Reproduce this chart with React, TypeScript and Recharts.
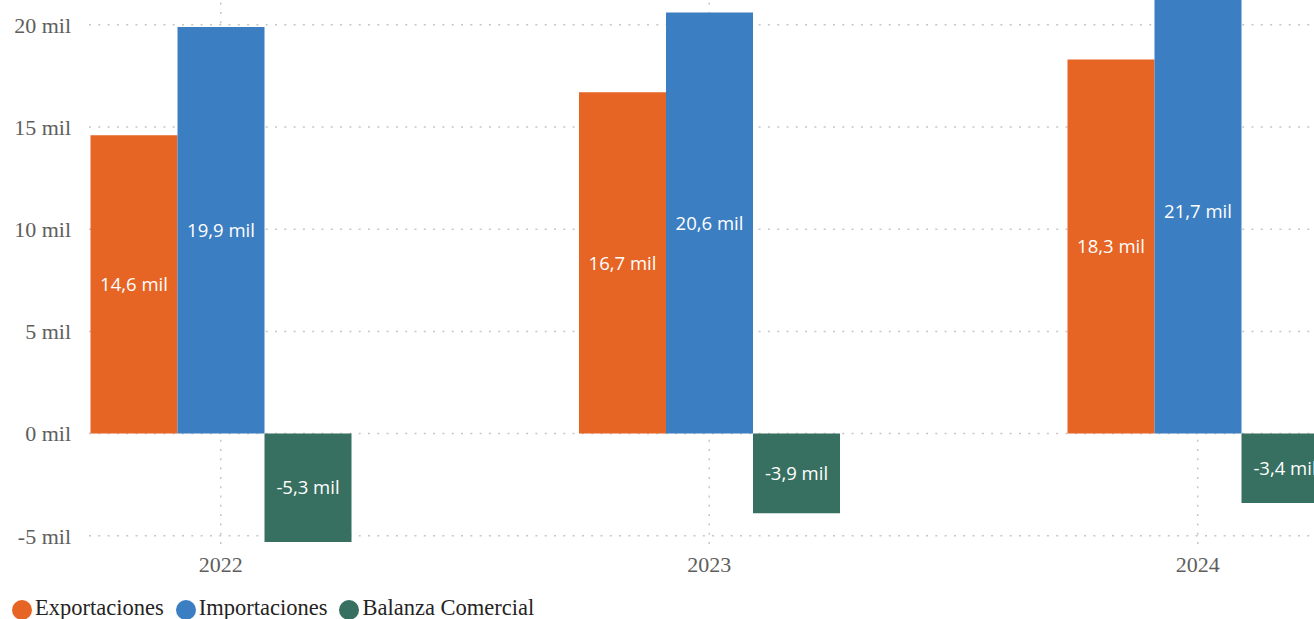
import React from 'react';
import { BarChart, Bar, XAxis, YAxis, CartesianGrid, Legend, LabelList } from 'recharts';

const years = ['2022', '2023', '2024'];
const exportaciones = [14.6, 16.7, 18.3];
const importaciones = [19.9, 20.6, 21.7];
const balanza = [-5.3, -3.9, -3.4];
const yTicks = [-5, 0, 5, 10, 15, 20];

const series = [
  { key: 'exportaciones', name: 'Exportaciones', color: '#E66424' },
  { key: 'importaciones', name: 'Importaciones', color: '#3B7EC2' },
  { key: 'balanza', name: 'Balanza Comercial', color: '#376F60' },
];

const data = years.map((y, i) => ({
  year: y,
  exportaciones: exportaciones[i],
  importaciones: importaciones[i],
  balanza: balanza[i],
}));

const fmtLabel = (v: any) => `${Number(v).toFixed(1).replace('.', ',')} mil`;
const fmtTick = (v: any) => `${v} mil`;

const serif = '"Liberation Serif", "Times New Roman", serif';
const sans = '"Open Sans", "Noto Sans", sans-serif';

const renderLegend = () => (
  <div
    style={{
      height: 36,
      boxSizing: 'border-box',
      paddingTop: 17,
      display: 'flex',
      alignItems: 'center',
      fontFamily: serif,
      fontSize: 22.5,
      color: '#252423',
      whiteSpace: 'nowrap',
    }}
  >
    {series.map((s) => (
      <div key={s.key} style={{ display: 'flex', alignItems: 'center', marginLeft: 12, height: 20 }}>
        <span style={{ width: 20, height: 20, borderRadius: '50%', background: s.color, display: 'inline-block', marginRight: 3 }} />
        <span style={{ lineHeight: '20px', position: 'relative', top: -2 }}>{s.name}</span>
      </div>
    ))}
  </div>
);

export default function App() {
  return (
    <div style={{ position: 'absolute', left: 0, top: -16, width: 1314, height: 635, overflow: 'visible' }}>
      <BarChart
        width={1314}
        height={635}
        data={data}
        margin={{ top: 0, right: 0, bottom: 0, left: 0 }}
        barGap={0}
        barSize={87}
      >
        <CartesianGrid stroke="#C8C6C4" strokeDasharray="2 7.3" strokeWidth={1.5} syncWithTicks />
        <XAxis
          dataKey="year"
          height={37}
          padding={{ left: -112.5, right: -128 }}
          axisLine={false}
          tickLine={false}
          tickSize={0}
          tickMargin={10}
          tick={{ fill: '#605E5C', fontSize: 22, fontFamily: serif }}
        />
        <YAxis
          width={89}
          domain={[-5.5, 22]}
          ticks={yTicks}
          allowDataOverflow
          axisLine={false}
          tickLine={false}
          tickSize={0}
          tickMargin={18}
          tickFormatter={fmtTick}
          tick={{ fill: '#605E5C', fontSize: 22, fontFamily: serif }}
        />
        <Legend verticalAlign="bottom" align="left" content={renderLegend} />
        {series.map((s) => (
          <Bar key={s.key} dataKey={s.key} name={s.name} fill={s.color} isAnimationActive={false}>
            <LabelList
              dataKey={s.key}
              position="center"
              formatter={fmtLabel}
              fill="#FFFFFF"
              style={{ fontFamily: sans, fontSize: 18.5 }}
            />
          </Bar>
        ))}
      </BarChart>
    </div>
  );
}
